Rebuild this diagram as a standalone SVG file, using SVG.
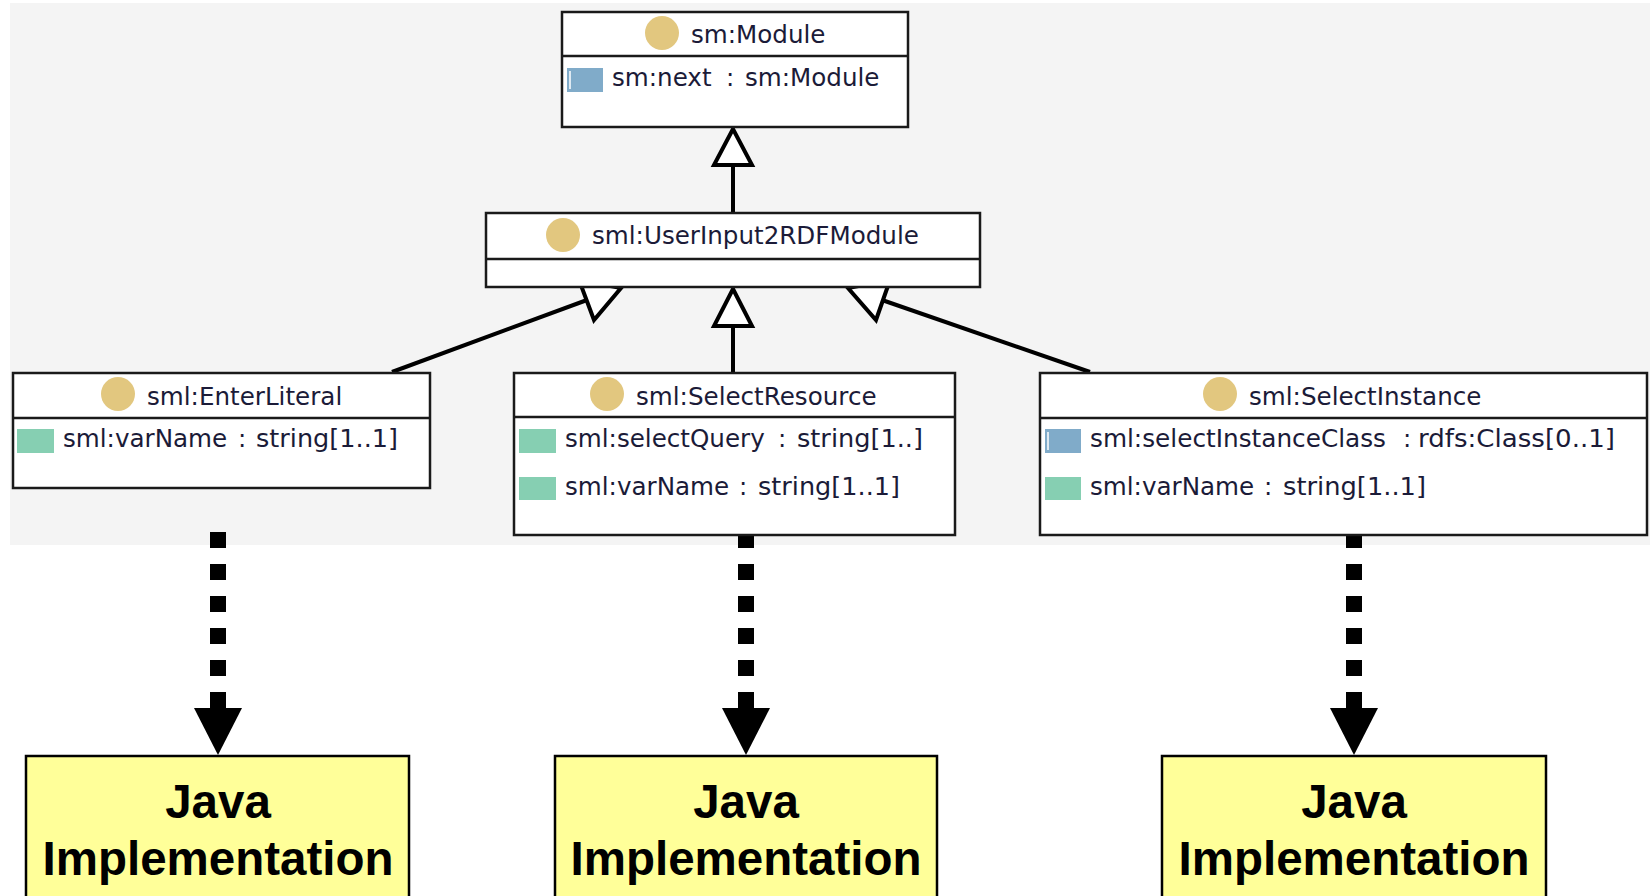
<svg xmlns="http://www.w3.org/2000/svg" width="1650" height="896" viewBox="0 0 1650 896">
  <style>
    .cls { fill: #ffffff; stroke: #1a1a1a; stroke-width: 2.5; }
    .div { stroke: #1a1a1a; stroke-width: 2.5; }
    .dot { fill: #e2c77f; }
    .lbl { font-family: "DejaVu Sans", Verdana, sans-serif; font-size: 24.6px; fill: #1b1b38; }
    .dt { fill: #86cfb2; }
    .ob { fill: #80abc9; }
    .obl { stroke: #ffffff; stroke-width: 1.5; }
    .gen { fill: none; stroke: #000; stroke-width: 4; }
    .head { fill: #ffffff; stroke: #000; stroke-width: 4; stroke-linejoin: miter; }
    .impl { fill: none; stroke: #000; stroke-width: 16; stroke-dasharray: 16 16; }
    .tip { fill: #000; }
    .java { fill: #ffff99; stroke: #000; stroke-width: 2.5; }
    .jt { font-family: "Liberation Sans", Arial, sans-serif; font-size: 47.5px; font-weight: bold; fill: #000; text-anchor: middle; }
  </style>

  <!-- canvas of the class diagram -->
  <rect x="10" y="3" width="1640" height="542" fill="#f4f4f4"/>

  <!-- connectors -->
  <g id="connectors">
    <!-- subclass links -->
    <line class="gen" x1="733" y1="165" x2="733" y2="213"/>
    <polygon class="head" points="733,129 714,165 752,165"/>

    <line class="gen" x1="733" y1="326" x2="733" y2="373"/>
    <polygon class="head" points="733,289 714,326 752,326"/>

    <line class="gen" x1="587" y1="300" x2="392" y2="372"/>
    <polygon class="head" points="621,288 579,280 594,320"/>

    <line class="gen" x1="882" y1="300" x2="1090" y2="372"/>
    <polygon class="head" points="848,288 890,280 876,320"/>

    <!-- implementation links -->
    <line class="impl" x1="218" y1="532" x2="218" y2="708"/>
    <polygon class="tip" points="194,708 242,708 218,755"/>
    <line class="impl" x1="746" y1="532" x2="746" y2="708"/>
    <polygon class="tip" points="722,708 770,708 746,755"/>
    <line class="impl" x1="1354" y1="532" x2="1354" y2="708"/>
    <polygon class="tip" points="1330,708 1378,708 1354,755"/>
  </g>

  <g id="sm-Module">
    <rect class="cls" x="562" y="12" width="346" height="115"/>
    <line class="div" x1="562" y1="56" x2="908" y2="56"/>
    <circle class="dot" cx="662" cy="33" r="17"/>
    <text class="lbl" x="691" y="43">sm:Module</text>
    <rect class="ob" x="567" y="68" width="36" height="24"/>
    <line class="obl" x1="570" y1="71" x2="570" y2="89"/>
    <text class="lbl" x="612" y="86">sm:next</text>
    <text class="lbl" x="726" y="86">:</text>
    <text class="lbl" x="745" y="86">sm:Module</text>
  </g>

  <g id="sml-UserInput2RDFModule">
    <rect class="cls" x="486" y="213" width="494" height="74"/>
    <line class="div" x1="486" y1="259" x2="980" y2="259"/>
    <circle class="dot" cx="563" cy="235" r="17"/>
    <text class="lbl" x="592" y="244">sml:UserInput2RDFModule</text>
  </g>

  <g id="sml-EnterLiteral">
    <rect class="cls" x="13" y="373" width="417" height="115"/>
    <line class="div" x1="13" y1="418" x2="430" y2="418"/>
    <circle class="dot" cx="118" cy="394" r="17"/>
    <text class="lbl" x="147" y="405">sml:EnterLiteral</text>
    <rect class="dt" x="17" y="429" width="37" height="24"/>
    <text class="lbl" x="63" y="447">sml:varName</text>
    <text class="lbl" x="238" y="447">:</text>
    <text class="lbl" x="256" y="447" textLength="142" lengthAdjust="spacingAndGlyphs">string[1..1]</text>
  </g>

  <g id="sml-SelectResource">
    <rect class="cls" x="514" y="373" width="441" height="162"/>
    <line class="div" x1="514" y1="417" x2="955" y2="417"/>
    <circle class="dot" cx="607" cy="394" r="17"/>
    <text class="lbl" x="636" y="405">sml:SelectResource</text>
    <rect class="dt" x="519" y="429" width="37" height="24"/>
    <text class="lbl" x="565" y="447">sml:selectQuery</text>
    <text class="lbl" x="778" y="447">:</text>
    <text class="lbl" x="797" y="447" textLength="126" lengthAdjust="spacingAndGlyphs">string[1..]</text>
    <rect class="dt" x="519" y="477" width="37" height="23"/>
    <text class="lbl" x="565" y="495">sml:varName</text>
    <text class="lbl" x="739" y="495">:</text>
    <text class="lbl" x="758" y="495" textLength="142" lengthAdjust="spacingAndGlyphs">string[1..1]</text>
  </g>

  <g id="sml-SelectInstance">
    <rect class="cls" x="1040" y="373" width="607" height="162"/>
    <line class="div" x1="1040" y1="418" x2="1647" y2="418"/>
    <circle class="dot" cx="1220" cy="394" r="17"/>
    <text class="lbl" x="1249" y="405">sml:SelectInstance</text>
    <rect class="ob" x="1045" y="429" width="36" height="24"/>
    <line class="obl" x1="1048" y1="432" x2="1048" y2="450"/>
    <text class="lbl" x="1090" y="447" textLength="296" lengthAdjust="spacingAndGlyphs">sml:selectInstanceClass</text>
    <text class="lbl" x="1403" y="447">:</text>
    <text class="lbl" x="1418" y="447" textLength="197" lengthAdjust="spacingAndGlyphs">rdfs:Class[0..1]</text>
    <rect class="dt" x="1045" y="477" width="36" height="23"/>
    <text class="lbl" x="1090" y="495">sml:varName</text>
    <text class="lbl" x="1264" y="495">:</text>
    <text class="lbl" x="1283" y="495" textLength="143" lengthAdjust="spacingAndGlyphs">string[1..1]</text>
  </g>

  <g id="java-EnterLiteral">
    <rect class="java" x="26" y="756" width="383" height="150"/>
    <text class="jt" x="218" y="818">Java</text>
    <text class="jt" x="218" y="875">Implementation</text>
  </g>

  <g id="java-SelectResource">
    <rect class="java" x="555" y="756" width="382" height="150"/>
    <text class="jt" x="746" y="818">Java</text>
    <text class="jt" x="746" y="875">Implementation</text>
  </g>

  <g id="java-SelectInstance">
    <rect class="java" x="1162" y="756" width="384" height="150"/>
    <text class="jt" x="1354" y="818">Java</text>
    <text class="jt" x="1354" y="875">Implementation</text>
  </g>
</svg>
